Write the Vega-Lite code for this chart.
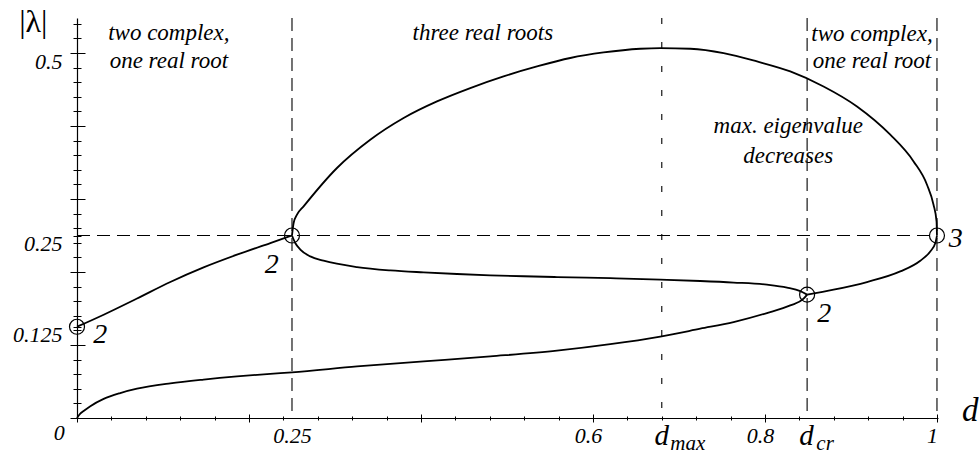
{
  "$schema": "https://vega.github.io/schema/vega-lite/v6.json",
  "width": 861,
  "height": 400,
  "autosize": "none",
  "padding": {"left": 77, "top": 18, "right": 41, "bottom": 37},
  "background": "white",
  "config": {
    "view": {"stroke": null},
    "font": "Liberation Serif",
    "axis": {"domainColor": "#000", "tickColor": "#000", "labelColor": "#000", "grid": false, "domainWidth": 1.2, "tickWidth": 1, "labelFont": "Liberation Serif", "labelFontStyle": "italic", "labelFontSize": 22, "title": null, "format": ".4~g"}
  },
  "datasets": {
    "vlines": [{"d": 0.25}, {"d": 0.849}, {"d": 1.0}],
    "dmax": [{"d": 0.68}],
    "hline": [{"lam": 0.25, "d0": 0, "d1": 1.0}],
    "curves": [
      {"br": "A", "i": 0, "d": 0, "lam": 0.125},
      {"br": "A", "i": 1, "d": 0.031, "lam": 0.1415},
      {"br": "A", "i": 2, "d": 0.0698, "lam": 0.1637},
      {"br": "A", "i": 3, "d": 0.1085, "lam": 0.1863},
      {"br": "A", "i": 4, "d": 0.1472, "lam": 0.2063},
      {"br": "A", "i": 5, "d": 0.186, "lam": 0.2237},
      {"br": "A", "i": 6, "d": 0.2248, "lam": 0.2397},
      {"br": "A", "i": 7, "d": 0.25, "lam": 0.25},
      {"br": "B", "i": 0, "d": 0, "lam": 0},
      {"br": "B", "i": 1, "d": 0.0038, "lam": 0.0059},
      {"br": "B", "i": 2, "d": 0.0077, "lam": 0.0095},
      {"br": "B", "i": 3, "d": 0.0155, "lam": 0.0162},
      {"br": "B", "i": 4, "d": 0.031, "lam": 0.0262},
      {"br": "B", "i": 5, "d": 0.0503, "lam": 0.0342},
      {"br": "B", "i": 6, "d": 0.0698, "lam": 0.0401},
      {"br": "B", "i": 7, "d": 0.1085, "lam": 0.0475},
      {"br": "B", "i": 8, "d": 0.1472, "lam": 0.0527},
      {"br": "B", "i": 9, "d": 0.186, "lam": 0.057},
      {"br": "B", "i": 10, "d": 0.2248, "lam": 0.0605},
      {"br": "B", "i": 11, "d": 0.25, "lam": 0.0625},
      {"br": "B", "i": 12, "d": 0.3256, "lam": 0.0707},
      {"br": "B", "i": 13, "d": 0.403, "lam": 0.0775},
      {"br": "B", "i": 14, "d": 0.4806, "lam": 0.0844},
      {"br": "B", "i": 15, "d": 0.5581, "lam": 0.0922},
      {"br": "B", "i": 16, "d": 0.6201, "lam": 0.1011},
      {"br": "B", "i": 17, "d": 0.6783, "lam": 0.1116},
      {"br": "B", "i": 18, "d": 0.7248, "lam": 0.1223},
      {"br": "B", "i": 19, "d": 0.7635, "lam": 0.1314},
      {"br": "B", "i": 20, "d": 0.8023, "lam": 0.1438},
      {"br": "B", "i": 21, "d": 0.8294, "lam": 0.1542},
      {"br": "B", "i": 22, "d": 0.8449, "lam": 0.1634},
      {"br": "B", "i": 23, "d": 0.849, "lam": 0.169},
      {"br": "C", "i": 0, "d": 0.25, "lam": 0.25},
      {"br": "C", "i": 1, "d": 0.2519, "lam": 0.2671},
      {"br": "C", "i": 2, "d": 0.2558, "lam": 0.2785},
      {"br": "C", "i": 3, "d": 0.2635, "lam": 0.2899},
      {"br": "C", "i": 4, "d": 0.3023, "lam": 0.3425},
      {"br": "C", "i": 5, "d": 0.341, "lam": 0.3812},
      {"br": "C", "i": 6, "d": 0.3798, "lam": 0.411},
      {"br": "C", "i": 7, "d": 0.4186, "lam": 0.4337},
      {"br": "C", "i": 8, "d": 0.4573, "lam": 0.452},
      {"br": "C", "i": 9, "d": 0.496, "lam": 0.468},
      {"br": "C", "i": 10, "d": 0.5349, "lam": 0.4816},
      {"br": "C", "i": 11, "d": 0.5736, "lam": 0.4932},
      {"br": "C", "i": 12, "d": 0.6123, "lam": 0.5008},
      {"br": "C", "i": 13, "d": 0.655, "lam": 0.5059},
      {"br": "C", "i": 14, "d": 0.6783, "lam": 0.5068},
      {"br": "C", "i": 15, "d": 0.7132, "lam": 0.5059},
      {"br": "C", "i": 16, "d": 0.7519, "lam": 0.5},
      {"br": "C", "i": 17, "d": 0.7907, "lam": 0.4885},
      {"br": "C", "i": 18, "d": 0.8294, "lam": 0.4748},
      {"br": "C", "i": 19, "d": 0.8681, "lam": 0.4542},
      {"br": "C", "i": 20, "d": 0.907, "lam": 0.4268},
      {"br": "C", "i": 21, "d": 0.9457, "lam": 0.3881},
      {"br": "C", "i": 22, "d": 0.9728, "lam": 0.3515},
      {"br": "C", "i": 23, "d": 0.9884, "lam": 0.3196},
      {"br": "C", "i": 24, "d": 0.996, "lam": 0.2922},
      {"br": "C", "i": 25, "d": 0.9995, "lam": 0.2693},
      {"br": "C", "i": 26, "d": 1.0, "lam": 0.25},
      {"br": "D", "i": 0, "d": 0.25, "lam": 0.25},
      {"br": "D", "i": 1, "d": 0.2538, "lam": 0.2397},
      {"br": "D", "i": 2, "d": 0.2597, "lam": 0.2307},
      {"br": "D", "i": 3, "d": 0.2713, "lam": 0.2214},
      {"br": "D", "i": 4, "d": 0.2867, "lam": 0.2155},
      {"br": "D", "i": 5, "d": 0.3256, "lam": 0.2068},
      {"br": "D", "i": 6, "d": 0.3643, "lam": 0.2022},
      {"br": "D", "i": 7, "d": 0.403, "lam": 0.1995},
      {"br": "D", "i": 8, "d": 0.4419, "lam": 0.1973},
      {"br": "D", "i": 9, "d": 0.4806, "lam": 0.1955},
      {"br": "D", "i": 10, "d": 0.5193, "lam": 0.1942},
      {"br": "D", "i": 11, "d": 0.5581, "lam": 0.1931},
      {"br": "D", "i": 12, "d": 0.6201, "lam": 0.1915},
      {"br": "D", "i": 13, "d": 0.6783, "lam": 0.1896},
      {"br": "D", "i": 14, "d": 0.7248, "lam": 0.1877},
      {"br": "D", "i": 15, "d": 0.7635, "lam": 0.1856},
      {"br": "D", "i": 16, "d": 0.8023, "lam": 0.1826},
      {"br": "D", "i": 17, "d": 0.8256, "lam": 0.1786},
      {"br": "D", "i": 18, "d": 0.8411, "lam": 0.1738},
      {"br": "D", "i": 19, "d": 0.849, "lam": 0.169},
      {"br": "E", "i": 0, "d": 0.849, "lam": 0.169},
      {"br": "E", "i": 1, "d": 0.8798, "lam": 0.1758},
      {"br": "E", "i": 2, "d": 0.9186, "lam": 0.1863},
      {"br": "E", "i": 3, "d": 0.9573, "lam": 0.2008},
      {"br": "E", "i": 4, "d": 0.9806, "lam": 0.2155},
      {"br": "E", "i": 5, "d": 0.9922, "lam": 0.2282},
      {"br": "E", "i": 6, "d": 0.9981, "lam": 0.2397},
      {"br": "E", "i": 7, "d": 1.0, "lam": 0.25}
    ],
    "points": [{"d": 0, "lam": 0.125}, {"d": 0.25, "lam": 0.25}, {"d": 0.849, "lam": 0.169}, {"d": 1.0, "lam": 0.25}],
    "regions": [
      {"t": "two complex,", "d": 0.1068, "lam": 0.518},
      {"t": "one real root", "d": 0.1068, "lam": 0.4799},
      {"t": "three real roots", "d": 0.4719, "lam": 0.518},
      {"t": "two complex,", "d": 0.9244, "lam": 0.5159},
      {"t": "one real root", "d": 0.9244, "lam": 0.4799},
      {"t": "max. eigenvalue", "d": 0.8271, "lam": 0.3908},
      {"t": "decreases", "d": 0.8271, "lam": 0.3493}
    ],
    "mults": [
      {"t": "2", "d": 0.0271, "lam": 0.1032},
      {"t": "2", "d": 0.2265, "lam": 0.199},
      {"t": "2", "d": 0.869, "lam": 0.1319},
      {"t": "3", "d": 1.0219, "lam": 0.2347}
    ],
    "dsym": [{"t": "d", "d": 0.68, "lam": -0.0366}, {"t": "d", "d": 0.8484, "lam": -0.0366}],
    "dsub": [{"t": "max", "d": 0.6899, "lam": -0.0434}, {"t": "cr", "d": 0.8597, "lam": -0.0434}],
    "xtitle": [{"t": "d", "d": 1.0387, "lam": -0.0047}],
    "ytitle": [{"t": "|λ|", "d": -0.0508, "lam": 0.529}],
    "origin": [{"t": "0", "d": -0.0206, "lam": -0.0297}]
  },
  "layer": [
    {
      "data": {"name": "vlines"},
      "mark": {"type": "rule", "strokeDash": [13, 7], "strokeWidth": 1.1, "color": "black"},
      "encoding": {
        "x": {"field": "d", "type": "quantitative", "scale": {"domain": [0, 1.0012], "nice": false, "zero": false},
          "axis": {"orient": "bottom", "values": [0,0.04,0.08,0.12,0.16,0.2,0.24,0.28,0.32,0.36,0.4,0.44,0.48,0.52,0.56,0.6,0.64,0.68,0.72,0.76,0.8,0.84,0.88,0.92,0.96,1.0], "labels": false, "tickSize": 2, "domain": true}}
      }
    },
    {
      "data": {"name": "dmax"},
      "mark": {"type": "rule", "strokeDash": [6, 18], "strokeWidth": 1.1, "color": "black"},
      "encoding": {
        "x": {"field": "d", "type": "quantitative",
          "axis": {"orient": "bottom", "values": [0,0.04,0.08,0.12,0.16,0.2,0.24,0.28,0.32,0.36,0.4,0.44,0.48,0.52,0.56,0.6,0.64,0.68,0.72,0.76,0.8,0.84,0.88,0.92,0.96,1.0], "labels": false, "tickSize": -2, "domain": false}}
      }
    },
    {
      "data": {"name": "hline"},
      "mark": {"type": "rule", "strokeDash": [13, 7], "strokeWidth": 1.1, "color": "black"},
      "encoding": {
        "x": {"field": "d0", "type": "quantitative",
          "axis": {"orient": "bottom", "values": [0, 0.2, 0.4, 0.6, 0.8, 1.0], "labels": false, "tickSize": 4, "domain": false}},
        "x2": {"field": "d1"},
        "y": {"field": "lam", "type": "quantitative", "scale": {"domain": [0, 0.548], "nice": false, "zero": false},
          "axis": {"orient": "left", "values": [0,0.02,0.04,0.06,0.08,0.1,0.12,0.125,0.14,0.16,0.18,0.2,0.22,0.24,0.25,0.26,0.28,0.3,0.32,0.34,0.36,0.38,0.4,0.42,0.44,0.46,0.48,0.5,0.52,0.54], "labels": false, "tickSize": 4, "domain": true}}
      }
    },
    {
      "data": {"name": "curves"},
      "mark": {"type": "line", "interpolate": "monotone", "strokeWidth": 1.8, "color": "black"},
      "encoding": {
        "x": {"field": "d", "type": "quantitative",
          "axis": {"orient": "bottom", "values": [0, 0.2, 0.4, 0.6, 0.8, 1.0], "labels": false, "tickSize": -4, "domain": false}},
        "y": {"field": "lam", "type": "quantitative",
          "axis": {"orient": "left", "values": [0,0.02,0.04,0.06,0.08,0.1,0.12,0.125,0.14,0.16,0.18,0.2,0.22,0.24,0.25,0.26,0.28,0.3,0.32,0.34,0.36,0.38,0.4,0.42,0.44,0.46,0.48,0.5,0.52,0.54], "labels": false, "tickSize": -4, "domain": false}},
        "detail": {"field": "br", "type": "nominal"},
        "order": {"field": "i", "type": "quantitative"}
      }
    },
    {
      "data": {"name": "points"},
      "mark": {"type": "point", "shape": "circle", "filled": false, "size": 225, "stroke": "black", "strokeWidth": 1.2, "opacity": 1},
      "encoding": {
        "x": {"field": "d", "type": "quantitative",
          "axis": {"orient": "bottom", "values": [0.25, 0.6, 0.8, 1], "format": ".4~g", "ticks": false, "tickSize": 0, "domain": false, "labelPadding": 7,
            "labelOffset": {"condition": {"test": "datum.value == 0.25", "value": 0}, "value": -5}}},
        "y": {"field": "lam", "type": "quantitative",
          "axis": {"orient": "left", "values": [0, 0.1, 0.2, 0.3, 0.4, 0.5], "labels": false, "tickSize": 7, "domain": false}}
      }
    },
    {
      "data": {"name": "regions"},
      "mark": {"type": "text", "font": "Liberation Serif", "fontStyle": "italic", "fontSize": 23, "align": "center", "baseline": "alphabetic", "color": "black"},
      "encoding": {
        "x": {"field": "d", "type": "quantitative", "axis": null},
        "y": {"field": "lam", "type": "quantitative",
          "axis": {"orient": "left", "values": [0, 0.1, 0.2, 0.3, 0.4, 0.5], "labels": false, "tickSize": -8, "domain": false}},
        "text": {"field": "t"}
      }
    },
    {
      "data": {"name": "mults"},
      "mark": {"type": "text", "font": "Liberation Serif", "fontStyle": "italic", "fontSize": 28, "align": "center", "baseline": "alphabetic", "color": "black"},
      "encoding": {
        "x": {"field": "d", "type": "quantitative", "axis": null},
        "y": {"field": "lam", "type": "quantitative",
          "axis": {"orient": "left", "values": [0.125, 0.25, 0.5], "format": ".4~g", "ticks": false, "tickSize": 0, "domain": false, "labelPadding": 15, "labelBaseline": "middle", "labelOffset": 8}},
        "text": {"field": "t"}
      }
    },
    {
      "data": {"name": "dsym"},
      "mark": {"type": "text", "font": "Liberation Serif", "fontStyle": "italic", "fontSize": 29, "align": "center", "baseline": "alphabetic", "color": "black"},
      "encoding": {
        "x": {"field": "d", "type": "quantitative", "axis": null},
        "y": {"field": "lam", "type": "quantitative", "axis": null},
        "text": {"field": "t"}
      }
    },
    {
      "data": {"name": "dsub"},
      "mark": {"type": "text", "font": "Liberation Serif", "fontStyle": "italic", "fontSize": 21, "align": "left", "baseline": "alphabetic", "color": "black"},
      "encoding": {
        "x": {"field": "d", "type": "quantitative", "axis": null},
        "y": {"field": "lam", "type": "quantitative", "axis": null},
        "text": {"field": "t"}
      }
    },
    {
      "data": {"name": "xtitle"},
      "mark": {"type": "text", "font": "Liberation Serif", "fontStyle": "italic", "fontSize": 33, "align": "center", "baseline": "alphabetic", "color": "black"},
      "encoding": {
        "x": {"field": "d", "type": "quantitative", "axis": null},
        "y": {"field": "lam", "type": "quantitative", "axis": null},
        "text": {"field": "t"}
      }
    },
    {
      "data": {"name": "ytitle"},
      "mark": {"type": "text", "font": "Liberation Serif", "fontSize": 32, "align": "center", "baseline": "alphabetic", "color": "black"},
      "encoding": {
        "x": {"field": "d", "type": "quantitative", "axis": null},
        "y": {"field": "lam", "type": "quantitative", "axis": null},
        "text": {"field": "t"}
      }
    },
    {
      "data": {"name": "origin"},
      "mark": {"type": "text", "font": "Liberation Serif", "fontStyle": "italic", "fontSize": 22, "align": "center", "baseline": "alphabetic", "color": "black"},
      "encoding": {
        "x": {"field": "d", "type": "quantitative", "axis": null},
        "y": {"field": "lam", "type": "quantitative", "axis": null},
        "text": {"field": "t"}
      }
    }
  ],
  "resolve": {"axis": {"x": "independent", "y": "independent"}}
}
